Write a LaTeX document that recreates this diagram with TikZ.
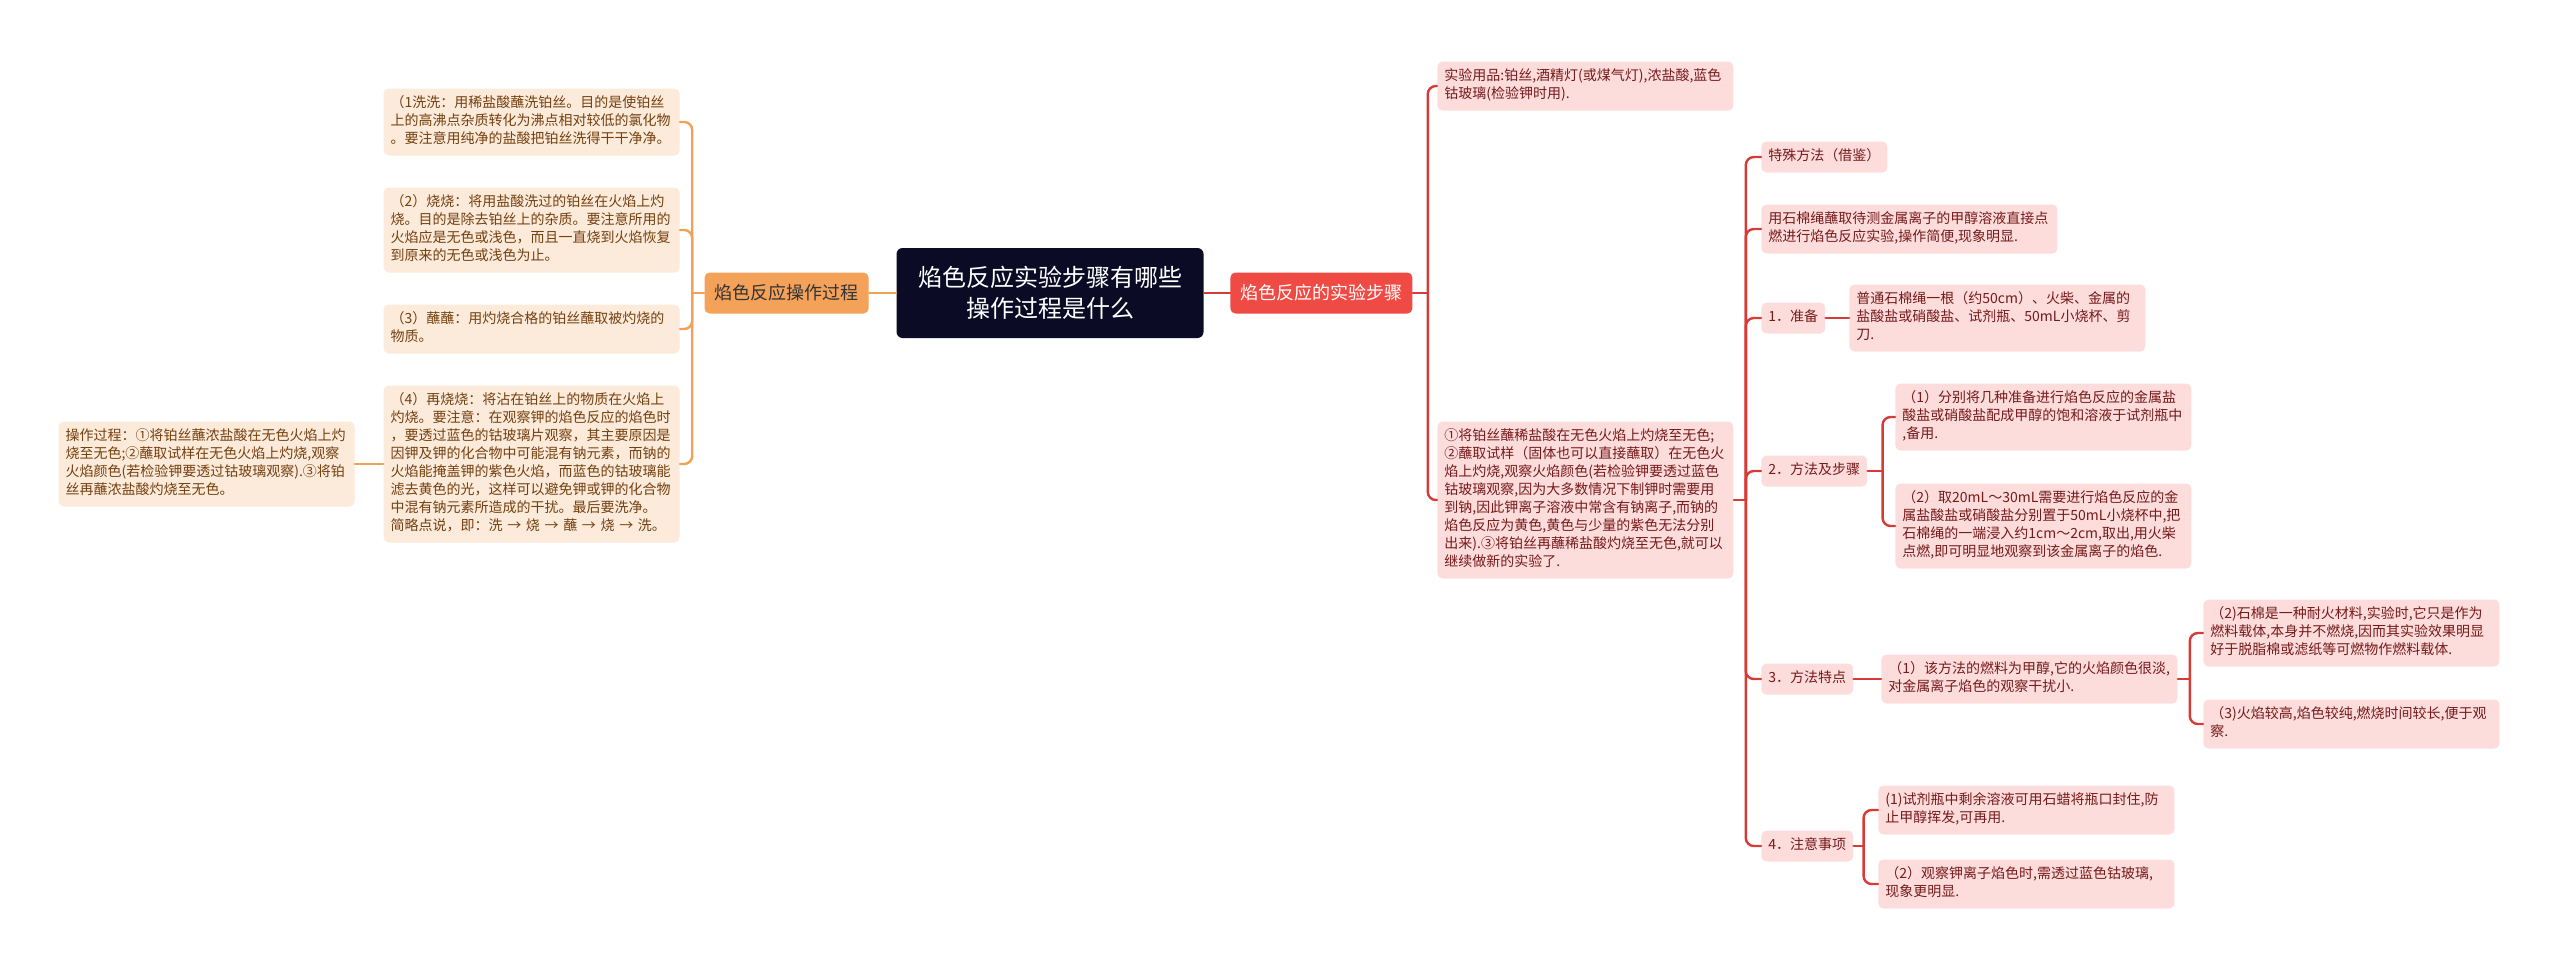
\documentclass[tikz,border=0pt]{standalone}
\usepackage{fontspec}
\newfontfamily\cjk{Noto Sans CJK SC}
\usetikzlibrary{positioning}
\definecolor{rootbg}{HTML}{0B0B26}
\definecolor{orfill}{HTML}{F4A259}
\definecolor{orline}{HTML}{F0A155}
\definecolor{peach}{HTML}{FCEADA}
\definecolor{lbrown}{HTML}{74400F}
\definecolor{rdfill}{HTML}{EF4A43}
\definecolor{rdline}{HTML}{D83A35}
\definecolor{pinkbg}{HTML}{FDDCDC}
\definecolor{maroon}{HTML}{761A1A}

\begin{document}
\begin{tikzpicture}[x=0.5pt,y=-0.5pt,line cap=round,
  box/.style={rounded corners=2.5pt,inner xsep=3.5pt,inner ysep=3.25pt,text width=141pt,align=left,
    font=\cjk\fontsize{7pt}{9pt}\selectfont,execute at begin node=\strut,execute at end node=\strut},
  lbox/.style={box,fill=peach,text=lbrown},
  rbox/.style={box,fill=pinkbg,text=maroon},
  rtag/.style={rounded corners=2.5pt,inner xsep=3.5pt,inner ysep=3.25pt,fill=pinkbg,text=maroon,
    font=\cjk\fontsize{7pt}{9pt}\selectfont,execute at begin node=\strut},
  branch/.style={rounded corners=2.5pt,inner xsep=5pt,minimum height=20.5pt,font=\cjk\fontsize{9pt}{11pt}\selectfont},
  oline/.style={draw=orline,line width=1.2pt},
  rline/.style={draw=rdline,line width=1.2pt},
  elbow/.style={rounded corners=4pt}]
\useasboundingbox (0,0) rectangle (2560,971);
% centre and the two branches
\node[fill=rootbg,text=white,rounded corners=3pt,minimum width=153.5pt,minimum height=45pt,align=center,
  font=\cjk\fontsize{12pt}{15.5pt}\selectfont] (root) at (1050,293) {焰色反应实验步骤有哪些\\操作过程是什么};
\node[branch,fill=orfill,text=black!80,anchor=east] (opL) at (869,293) {焰色反应操作过程};
\node[branch,fill=rdfill,text=white,anchor=west] (stR) at (1230,293) {焰色反应的实验步骤};
\draw[oline] (root.west) -- (opL.east);
\draw[rline] (root.east) -- (stR.west);

% left side
\node[lbox,anchor=east] (wash) at (680,122) {（1洗洗：用稀盐酸蘸洗铂丝。目的是使铂丝\\上的高沸点杂质转化为沸点相对较低的氯化物\\。要注意用纯净的盐酸把铂丝洗得干干净净。};
\node[lbox,anchor=east] (burn) at (680,230) {（2）烧烧：将用盐酸洗过的铂丝在火焰上灼\\烧。目的是除去铂丝上的杂质。要注意所用的\\火焰应是无色或浅色，而且一直烧到火焰恢复\\到原来的无色或浅色为止。};
\node[lbox,anchor=east] (dip) at (680,329) {（3）蘸蘸：用灼烧合格的铂丝蘸取被灼烧的\\物质。};
\node[lbox,anchor=east] (reburn) at (680,464) {（4）再烧烧：将沾在铂丝上的物质在火焰上\\灼烧。要注意：在观察钾的焰色反应的焰色时\\，要透过蓝色的钴玻璃片观察，其主要原因是\\因钾及钾的化合物中可能混有钠元素，而钠的\\火焰能掩盖钾的紫色火焰，而蓝色的钴玻璃能\\滤去黄色的光，这样可以避免钾或钾的化合物\\中混有钠元素所造成的干扰。最后要洗净。\\简略点说，即：洗 → 烧 → 蘸 → 烧 → 洗。};
\node[lbox,anchor=east] (proc) at (355,464) {操作过程：①将铂丝蘸浓盐酸在无色火焰上灼\\烧至无色;②蘸取试样在无色火焰上灼烧,观察\\火焰颜色(若检验钾要透过钴玻璃观察).③将铂\\丝再蘸浓盐酸灼烧至无色。};
\draw[oline] (opL.west) -- ++(-12,0) coordinate (jL);
\foreach \n in {wash,burn,dip,reburn}
  \draw[oline,elbow] (jL) |- (\n.east);
\draw[oline] (reburn.west) -- (proc.east);

% right side
\node[rbox,anchor=west] (kit) at (1437,86) {实验用品:铂丝,酒精灯(或煤气灯),浓盐酸,蓝色\\钴玻璃(检验钾时用).};
\node[rbox,anchor=west] (steps) at (1437,500) {①将铂丝蘸稀盐酸在无色火焰上灼烧至无色;\\②蘸取试样（固体也可以直接蘸取）在无色火\\焰上灼烧,观察火焰颜色(若检验钾要透过蓝色\\钴玻璃观察,因为大多数情况下制钾时需要用\\到钠,因此钾离子溶液中常含有钠离子,而钠的\\焰色反应为黄色,黄色与少量的紫色无法分别\\出来).③将铂丝再蘸稀盐酸灼烧至无色,就可以\\继续做新的实验了.};
\draw[rline] (stR.east) -- ++(15,0) coordinate (jR);
\foreach \n in {kit,steps}
  \draw[rline,elbow] (jR) |- (\n.west);

\node[rtag,anchor=west] (spec) at (1761,157) {特殊方法（借鉴）};
\node[rbox,anchor=west] (rope) at (1761,229) {用石棉绳蘸取待测金属离子的甲醇溶液直接点\\燃进行焰色反应实验,操作简便,现象明显.};
\node[rtag,anchor=west] (prep) at (1761,318) {1．准备};
\node[rtag,anchor=west] (meth) at (1761,471) {2．方法及步骤};
\node[rtag,anchor=west] (feat) at (1761,679) {3．方法特点};
\node[rtag,anchor=west] (note) at (1761,846) {4．注意事项};
\draw[rline] (steps.east) -- ++(12,0) coordinate (jS);
\foreach \n in {spec,rope,prep,meth,feat,note}
  \draw[rline,elbow] (jS) |- (\n.west);

\node[rbox,anchor=west] (tools) at (1849,318) {普通石棉绳一根（约50cm）、火柴、金属的\\盐酸盐或硝酸盐、试剂瓶、50mL小烧杯、剪\\刀.};
\draw[rline] (prep.east) -- (tools.west);

\node[rbox,anchor=west] (m1) at (1895,417) {（1）分别将几种准备进行焰色反应的金属盐\\酸盐或硝酸盐配成甲醇的饱和溶液于试剂瓶中\\,备用.};
\node[rbox,anchor=west] (m2) at (1895,526) {（2）取20mL～30mL需要进行焰色反应的金\\属盐酸盐或硝酸盐分别置于50mL小烧杯中,把\\石棉绳的一端浸入约1cm～2cm,取出,用火柴\\点燃,即可明显地观察到该金属离子的焰色.};
\draw[rline] (meth.east) -- ++(15,0) coordinate (jM);
\foreach \n in {m1,m2}
  \draw[rline,elbow] (jM) |- (\n.west);

\node[rbox,anchor=west] (f1) at (1881,679) {（1）该方法的燃料为甲醇,它的火焰颜色很淡,\\对金属离子焰色的观察干扰小.};
\draw[rline] (feat.east) -- (f1.west);
\node[rbox,anchor=west] (f2) at (2203,633) {（2)石棉是一种耐火材料,实验时,它只是作为\\燃料载体,本身并不燃烧,因而其实验效果明显\\好于脱脂棉或滤纸等可燃物作燃料载体.};
\node[rbox,anchor=west] (f3) at (2203,724) {（3)火焰较高,焰色较纯,燃烧时间较长,便于观\\察.};
\draw[rline] (f1.east) -- ++(12,0) coordinate (jF);
\foreach \n in {f2,f3}
  \draw[rline,elbow] (jF) |- (\n.west);

\node[rbox,anchor=west] (n1) at (1878,810) {(1)试剂瓶中剩余溶液可用石蜡将瓶口封住,防\\止甲醇挥发,可再用.};
\node[rbox,anchor=west] (n2) at (1878,884) {（2）观察钾离子焰色时,需透过蓝色钴玻璃,\\现象更明显.};
\draw[rline] (note.east) -- ++(10,0) coordinate (jN);
\foreach \n in {n1,n2}
  \draw[rline,elbow] (jN) |- (\n.west);
\end{tikzpicture}
\end{document}
